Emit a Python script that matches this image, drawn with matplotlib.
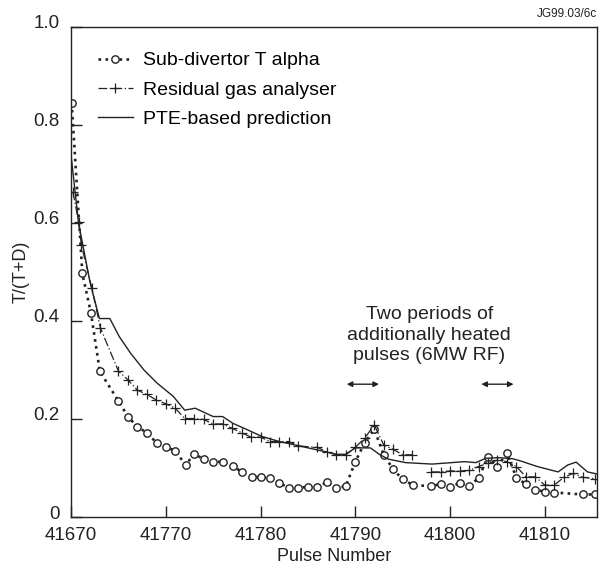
import matplotlib.pyplot as plt
import matplotlib.transforms as mtransforms
import numpy as np

plt.rcParams['font.family'] = ['Liberation Sans', 'DejaVu Sans']

# x positions on the plot's own pulse scale (first tick is printed as 41670)
tick_pos = [41760, 41770, 41780, 41790, 41800, 41810]
tick_labels = ['41670', '41770', '41780', '41790', '41800', '41810']

# Sub-divertor T alpha
tα_x = [41760.07, 41761.2, 41762.1, 41763.05, 41765, 41766, 41767, 41768, 41769.1,
        41770, 41771, 41772.1, 41773, 41774, 41775, 41776, 41777.1, 41778, 41779.1,
        41780, 41781, 41782, 41783, 41784, 41785, 41786, 41787, 41788, 41789,
        41790, 41791, 41792, 41793, 41794, 41795, 41796.1, 41798, 41799, 41800,
        41801, 41802, 41803, 41804, 41805, 41806, 41807, 41808, 41809, 41810,
        41811, 41814, 41815.3]
tα_y = [0.845, 0.497, 0.417, 0.297, 0.237, 0.205, 0.184, 0.172, 0.150,
        0.143, 0.135, 0.106, 0.129, 0.118, 0.112, 0.113, 0.104, 0.092, 0.082,
        0.081, 0.080, 0.069, 0.060, 0.059, 0.062, 0.061, 0.071, 0.059, 0.063,
        0.113, 0.152, 0.179, 0.127, 0.097, 0.077, 0.065, 0.063, 0.067, 0.062,
        0.069, 0.064, 0.079, 0.123, 0.103, 0.130, 0.080, 0.067, 0.055, 0.052,
        0.050, 0.046, 0.046]

# Residual gas analyser (nan = gap in the record)
rga_x = [41760.2, 41760.8, 41761.1, 41762.2, 41763.1, 41765, 41766, 41767, 41768,
         41769, 41770, 41771, 41772, 41773, 41774, 41775, 41776, 41777, 41778,
         41779, 41780, 41781, 41782, 41783, 41784, 41786, 41787, 41788, 41789,
         41790, 41791, 41792, 41793, 41794, 41795, 41796, 41797, 41798, 41799,
         41800, 41801, 41802, 41803, 41804, 41805, 41806, 41807, 41808, 41809,
         41810, 41811, 41812, 41813, 41814, 41815.3]
rga_y = [0.664, 0.603, 0.555, 0.467, 0.386, 0.298, 0.280, 0.259, 0.250,
         0.239, 0.231, 0.222, 0.201, 0.201, 0.199, 0.190, 0.190, 0.181, 0.172,
         0.163, 0.163, 0.154, 0.154, 0.154, 0.145, 0.142, 0.133, 0.127, 0.127,
         0.142, 0.161, 0.188, 0.147, 0.138, 0.127, 0.127, np.nan, 0.092, 0.092,
         0.094, 0.094, 0.095, 0.103, 0.110, 0.116, 0.113, 0.103, 0.082, 0.082,
         0.065, 0.065, 0.081, 0.089, 0.081, 0.078]

# PTE-based prediction
pte_x = [41760, 41760.8, 41762, 41763, 41764.1, 41765.1, 41766.3, 41767.7, 41769.1,
         41770.8, 41772, 41773.1, 41774, 41775, 41776, 41777.1, 41778.5, 41780.2,
         41782, 41784.1, 41786.2, 41788, 41789, 41790, 41791.6, 41792.6, 41793.5,
         41795.3, 41798.1, 41800.2, 41801.5, 41802.7, 41803.8, 41805.2, 41806.6,
         41807.5, 41809.2, 41811.4, 41812.4, 41813.3, 41814.5, 41815.7]
pte_y = [0.74, 0.60, 0.48, 0.405, 0.405, 0.368, 0.334, 0.300, 0.273,
         0.246, 0.218, 0.222, 0.214, 0.205, 0.205, 0.191, 0.179, 0.164,
         0.154, 0.145, 0.136, 0.128, 0.128, 0.141, 0.141, 0.127, 0.118,
         0.111, 0.108, 0.111, 0.113, 0.111, 0.120, 0.121, 0.119,
         0.114, 0.103, 0.092, 0.106, 0.112, 0.092, 0.087]

heated_1 = (41789.1, 41792.5)
heated_2 = (41803.3, 41806.7)

ink = '#222222'

fig = plt.figure(figsize=(6.03, 5.74), dpi=100)
ax = fig.add_axes([0.1177, 0.0993, 0.8723, 0.8537])

ax.plot(tα_x, tα_y, color=ink, linestyle=':', linewidth=1.9, marker='o',
        markersize=5.3, markerfacecolor='white', markeredgecolor=ink,
        markeredgewidth=1.0, label='Sub-divertor T alpha')
ax.plot(rga_x, rga_y, color=ink, linestyle=(0, (7, 2, 1, 2)), linewidth=0.9,
        marker='+', markersize=7, markeredgewidth=0.9, label='Residual gas analyser')
ax.plot(pte_x, pte_y, color=ink, linewidth=1.0, label='PTE-based prediction')

for a, b in (heated_1, heated_2):
    ax.annotate('', xy=(a, 0.271), xytext=(b, 0.271),
                arrowprops=dict(arrowstyle='<|-|>', color=ink, lw=1.0,
                                mutation_scale=8, shrinkA=0, shrinkB=0))
ax.text(41797.8, 0.371, 'Two periods of\nadditionally heated\npulses (6MW RF)',
        ha='center', va='center', fontsize=14, color=ink, linespacing=1.25)

ax.set_xlim(41760, 41815.5)
ax.set_ylim(0, 1.0)
ax.set_xticks(tick_pos)
ax.set_xticklabels(tick_labels)
ax.set_yticks([0, 0.2, 0.4, 0.6, 0.8, 1.0])
ax.set_yticklabels(['0', '0.2', '0.4', '0.6', '0.8', '1.0'])
ax.tick_params(direction='in', length=8, width=1.0, labelsize=13.5,
               colors=ink)
ax.tick_params(axis='x', pad=7)
ax.tick_params(axis='y', pad=8)
# the y labels sit a little above their ticks in the original
lift = mtransforms.ScaledTranslation(0, 5 / 100, fig.dpi_scale_trans)
for lab in ax.get_yticklabels():
    lab.set_transform(lab.get_transform() + lift)
for s in ax.spines.values():
    s.set_linewidth(1.0)
    s.set_color(ink)

ax.set_xlabel('Pulse Number', fontsize=13, color=ink, labelpad=3)
ax.set_ylabel('T/(T+D)', fontsize=13, color=ink, labelpad=3)

ax.legend(loc='upper left', frameon=False, fontsize=14, numpoints=1,
          handlelength=1.8, handletextpad=0.5, labelspacing=0.6,
          bbox_to_anchor=(0.018, 0.985))

fig.text(0.99, 0.975, 'JG99.03/6c', ha='right', va='center', fontsize=8.5, color=ink)

fig.savefig('out.png', dpi=100)
